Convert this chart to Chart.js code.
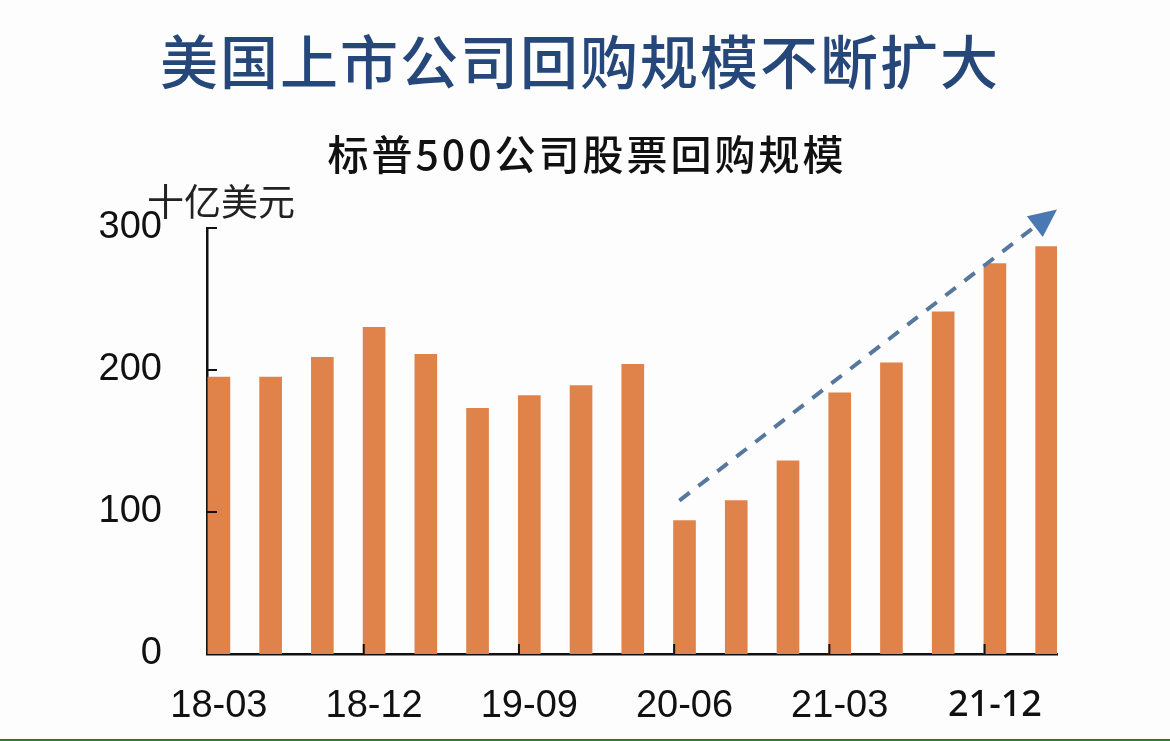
<!DOCTYPE html>
<html lang="zh">

<head>
  <meta charset="UTF-8">
  <title>标普500公司股票回购规模</title>
  <style>
    body { margin: 0; background: #fdfdfd; }
    .chart-box { width: 1170px; height: 739px; position: relative; }
    .bottom-line { width: 1170px; height: 2px; background: #2a7a32; }
  </style>
</head>

<body>
  <div class="chart-box">
    <canvas id="myChart"></canvas>
  </div>
  <div class="bottom-line"></div>
  <script src="https://cdn.jsdelivr.net/npm/chart.js"></script>
  <script>
    // quarters 2018Q1 .. 2022Q1
    const quarters = ['18-03', '18-06', '18-09', '18-12', '19-03', '19-06', '19-09', '19-12',
      '20-03', '20-06', '20-09', '20-12', '21-03', '21-06', '21-09', '21-12', '22-03'];
    // buyback amount, billion USD
    const buyback = [195, 195, 209, 230, 211, 173, 182, 189, 204, 94, 108, 136, 184, 205, 241, 275, 287];
    const labelIdx = [0, 3, 6, 9, 12, 15];
    const yTicks = [0, 100, 200, 300];
    // trend arrow, from/to in data units [index, value]
    const trendArrow = [[8.9, 108], [16.2, 313]];

    const mainTitle = '美国上市公司回购规模不断扩大';
    const subTitle = '标普500公司股票回购规模';
    const unitLabel = '十亿美元';

    const ctx = document.getElementById('myChart');
    const barPoints = buyback.map((v, i) => ({ x: i, y: v }));

    const axisDeco = {
      id: 'axisDeco',
      afterDraw(chart) {
        const c = chart.ctx;
        const x = chart.scales.x;
        const y = chart.scales.y;
        const area = chart.chartArea;
        c.save();
        // titles
        c.textAlign = 'center';
        c.textBaseline = 'middle';
        c.fillStyle = '#26477a';
        c.font = '500 58px "Noto Sans CJK SC"';
        c.letterSpacing = '2px';
        c.fillText(mainTitle, 580, 62);
        c.fillStyle = '#111';
        c.font = '500 41px "Noto Sans CJK SC"';
        c.letterSpacing = '3px';
        c.fillText(subTitle, 587, 154);
        c.letterSpacing = '0px';

        // inward tick marks
        c.strokeStyle = '#111';
        c.lineWidth = 2;
        labelIdx.slice(1).forEach(i => {
          const px = x.getPixelForValue(i - 0.2);
          c.beginPath();
          c.moveTo(px, area.bottom);
          c.lineTo(px, area.bottom - 10);
          c.stroke();
        });
        yTicks.slice(1).forEach(v => {
          const py = y.getPixelForValue(v);
          c.beginPath();
          c.moveTo(area.left, py);
          c.lineTo(area.left + 10, py);
          c.stroke();
        });
        // unit
        c.fillStyle = '#222';
        c.font = '37px "Noto Sans CJK SC"';
        c.textAlign = 'left';
        c.fillText(unitLabel, area.left - 60, area.top - 26);

        // dashed trend arrow
        const x0 = x.getPixelForValue(trendArrow[0][0]);
        const y0 = y.getPixelForValue(trendArrow[0][1]);
        const x1 = x.getPixelForValue(trendArrow[1][0]);
        const y1 = y.getPixelForValue(trendArrow[1][1]);
        const ang = Math.atan2(y1 - y0, x1 - x0);
        const head = 28;
        const bx = x1 - Math.cos(ang) * head;
        const by = y1 - Math.sin(ang) * head;
        c.strokeStyle = '#56779e';
        c.lineWidth = 4;
        c.setLineDash([13, 11]);
        c.beginPath();
        c.moveTo(x0, y0);
        c.lineTo(bx, by);
        c.stroke();
        c.setLineDash([]);
        c.fillStyle = '#4a78b2';
        c.beginPath();
        c.moveTo(x1, y1);
        c.lineTo(bx + Math.sin(ang) * 13, by - Math.cos(ang) * 13);
        c.lineTo(bx - Math.sin(ang) * 13, by + Math.cos(ang) * 13);
        c.closePath();
        c.fill();
        c.restore();
      }
    };

    let mychart = new Chart(ctx, {
      type: 'bar',
      data: {
        datasets: [{
          label: '回购规模',
          data: barPoints,
          backgroundColor: '#e0834b',
          barThickness: 22
        }]
      },
      options: {
        responsive: true,
        maintainAspectRatio: false,
        animation: false,
        layout: { padding: { left: 0, right: 113, top: 228, bottom: 0 } },
        plugins: {
          legend: { display: false },
          tooltip: { enabled: false },
          title: { display: false }
        },
        scales: {
          x: {
            type: 'linear',
            offset: false,
            min: -0.23,
            max: 16.2,
            grid: { display: false, offset: false },
            border: { display: true, color: '#111', width: 2.5 },
            afterBuildTicks: s => { s.ticks = labelIdx.map(v => ({ value: v })); },
            afterFit: s => { s.height = 85; },
            ticks: {
              autoSkip: false,
              maxRotation: 0,
              padding: 22,
              color: '#111',
              font: c => (c.tick && c.tick.value === 15)
                ? { family: '"Noto Sans"', size: 36, weight: '500' }
                : { family: '"Liberation Sans", Arial', size: 38 },
              callback: v => quarters[v]
            }
          },
          y: {
            min: 0,
            max: 300,
            grid: { display: false },
            border: { display: true, color: '#111', width: 2.5 },
            afterBuildTicks: s => { s.ticks = yTicks.map(v => ({ value: v })); },
            afterFit: s => { s.width = 207; },
            ticks: {
              padding: 37,
              color: '#111',
              font: { family: '"Liberation Sans", Arial', size: 38 }
            }
          }
        }
      },
      plugins: [axisDeco]
    });
  </script>
</body>

</html>
